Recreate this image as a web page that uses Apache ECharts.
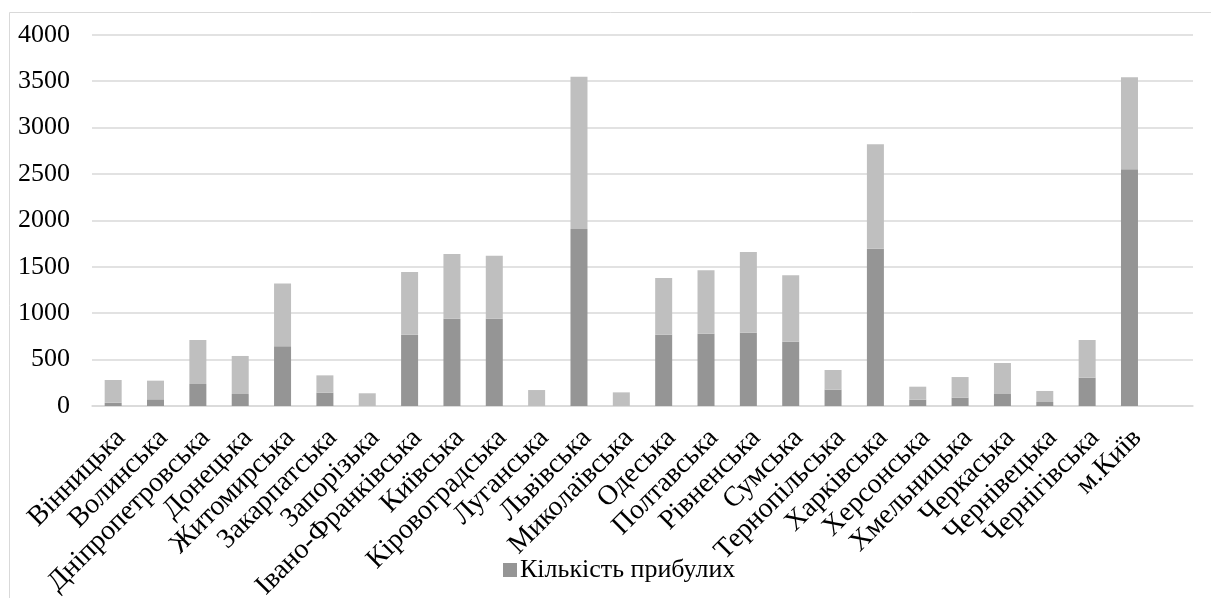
<!DOCTYPE html>
<html>
<head>
<meta charset="utf-8">
<script src="https://cdn.jsdelivr.net/npm/echarts@6/dist/echarts.min.js"></script>
<style>
  html, body { margin: 0; padding: 0; background: #fff; }
  #chart { width: 1211px; height: 598px; }
</style>
</head>
<body>
<div id="chart"></div>
<script>
// Регіони України; остання позиція на осі порожня
const regions = [
  'Вінницька', 'Волинська', 'Дніпропетровська', 'Донецька', 'Житомирська',
  'Закарпатська', 'Запорізька', 'Івано-Франківська', 'Київська', 'Кіровоградська',
  'Луганська', 'Львівська', 'Миколаївська', 'Одеська', 'Полтавська',
  'Рівненська', 'Сумська', 'Тернопільська', 'Харківська', 'Херсонська',
  'Хмельницька', 'Черкаська', 'Чернівецька', 'Чернігівська', 'м.Київ', ''
];

// Кількість прибулих (нижній, темний сегмент)
const arrived = [
  35, 72, 237, 129, 643,
  144, 0, 768, 941, 941,
  0, 1907, 0, 768, 779,
  790, 693, 176, 1695, 68,
  90, 129, 43, 305, 2550, null
];

// Верхній, світлий сегмент
const upper = [
  245, 201, 474, 410, 678,
  186, 137, 675, 696, 678,
  172, 1641, 147, 611, 683,
  869, 715, 212, 1124, 140,
  222, 334, 119, 406, 991, null
];

const yTicks = { min: 0, max: 4000, interval: 500 };

const font = 'Liberation Serif';
const chart = echarts.init(document.getElementById('chart'), null, { renderer: 'canvas' });

chart.setOption({
  animation: false,
  backgroundColor: '#ffffff',
  graphic: [{
    type: 'rect',
    shape: { x: 9.5, y: 12.5, width: 1220, height: 600 },
    style: { fill: 'none', stroke: '#d9d9d9', lineWidth: 1 },
    silent: true
  }],
  grid: {
    left: 92, right: 18, top: 34.7, bottom: 192,
    containLabel: false,
    outerBoundsMode: 'none'
  },
  legend: {
    data: ['Кількість прибулих'],
    left: 498,
    top: 552,
    icon: 'rect',
    itemWidth: 14,
    itemHeight: 14,
    itemGap: 5,
    textStyle: { fontFamily: font, fontSize: 26, color: '#000', padding: [0, 0, 0, -2] }
  },
  xAxis: {
    type: 'category',
    data: regions,
    axisLine: { lineStyle: { color: '#d9d9d9', width: 1.5 } },
    axisTick: { show: false },
    axisLabel: {
      interval: 0,
      rotate: 45,
      margin: 20,
      verticalAlign: 'top',
      lineHeight: 22,
      fontFamily: font,
      fontSize: 28,
      color: '#000'
    }
  },
  yAxis: {
    type: 'value',
    min: yTicks.min,
    max: yTicks.max,
    interval: yTicks.interval,
    axisLine: { show: false },
    axisTick: { show: false },
    splitLine: { lineStyle: { color: '#d9d9d9', width: 1.5 } },
    axisLabel: {
      margin: 22,
      fontFamily: font,
      fontSize: 26,
      color: '#000',
      formatter: v => String(v)
    }
  },
  series: [
    {
      name: 'Кількість прибулих',
      type: 'bar',
      stack: 'total',
      data: arrived,
      barWidth: 17,
      itemStyle: { color: '#959595' }
    },
    {
      name: 'Верхній сегмент',
      type: 'bar',
      stack: 'total',
      data: upper,
      barWidth: 17,
      itemStyle: { color: '#bfbfbf' }
    }
  ]
});
</script>
</body>
</html>
